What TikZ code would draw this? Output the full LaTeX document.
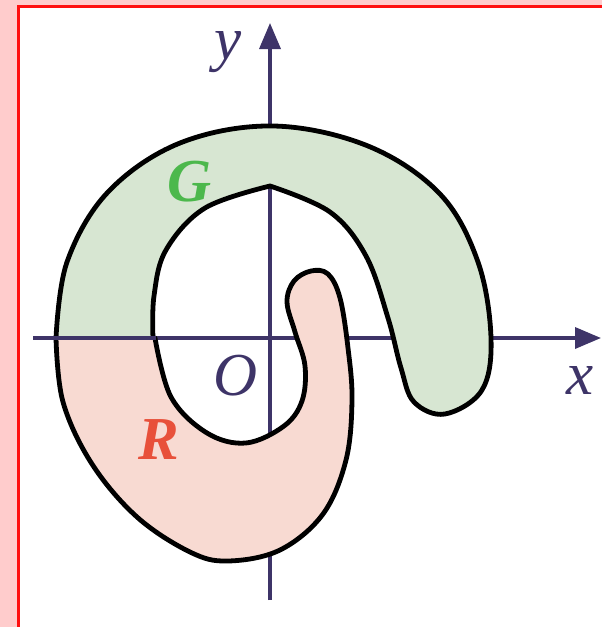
\documentclass[tikz,border=0pt]{standalone}
\usepackage{fontspec}
\setmainfont{Liberation Serif}
\usetikzlibrary{arrows.meta}
\definecolor{bgpink}{HTML}{FFCCCC}
\definecolor{frame}{HTML}{FF1010}
\definecolor{axiscol}{HTML}{3E3468}
\definecolor{gfill}{HTML}{D7E6D2}
\definecolor{rfill}{HTML}{F8DAD2}
\definecolor{glab}{HTML}{4CB84C}
\definecolor{rlab}{HTML}{E8503A}
\tikzset{
  axis/.style={draw=axiscol, line width=3.5pt},
  tip/.style={-{Triangle[length=26pt,width=21pt]}},
  outline/.style={draw=black, line width=4.8pt, line join=round, line cap=round},
  lab/.style={inner sep=0pt, font=\fontsize{61}{61}\selectfont}
}
\begin{document}
\begin{tikzpicture}[x=1pt,y=-1pt]
\useasboundingbox (0,0) rectangle (602,627);
\fill[bgpink] (0,0) rectangle (602,627);
\draw[frame, line width=2.7pt, fill=white] (18.7,6.2) rectangle (640,660);
% axes
\draw[axis, tip] (33,338) -- (601,338);
\draw[axis, tip] (270,600) -- (270,23);
% G region
\def\Gpath{plot[smooth, tension=0.6] coordinates {(56,338) (67,262) (108,192) (180,143) (273,126) (368,146) (440,194) (478,262) (491,338) (482,390) (445,414) (414,402) (401,368) (388,318) (366,256) (330,212) (270,186)}
  -- plot[smooth, tension=0.6] coordinates {(270,186) (205,208) (166,250) (154,296) (153,338)}}
\fill[gfill] \Gpath -- cycle;
\draw[outline] \Gpath;
% R region
\def\Rpath{plot[smooth, tension=0.6] coordinates {(56,338) (63,402) (92,464) (137,517) (190,552) (228,561) (280,550) (323,514) (346,460) (352,400) (348,348) (340,298) (328,274) (311,271) (294,281) (287,302) (295,332) (305,366) (302,401) (284,426) (246,443) (207,433) (171,397) (155,338)}}
\fill[rfill] \Rpath -- cycle;
\draw[outline] \Rpath;
\draw[axis] (50,338) -- (156,338);
% labels
\node[lab, text=axiscol] (ylab) at (228,52) {\itshape y};
\node[lab, text=axiscol] (xlab) at (580,380) {\itshape x};
\node[lab, text=axiscol] (olab) at (236,376) {\itshape O};
\node[lab, text=glab] (glabel) at (190,182) {\bfseries\itshape G};
\node[lab, text=rlab] (rlabel) at (159,440) {\bfseries\itshape R};
\end{tikzpicture}
\end{document}
